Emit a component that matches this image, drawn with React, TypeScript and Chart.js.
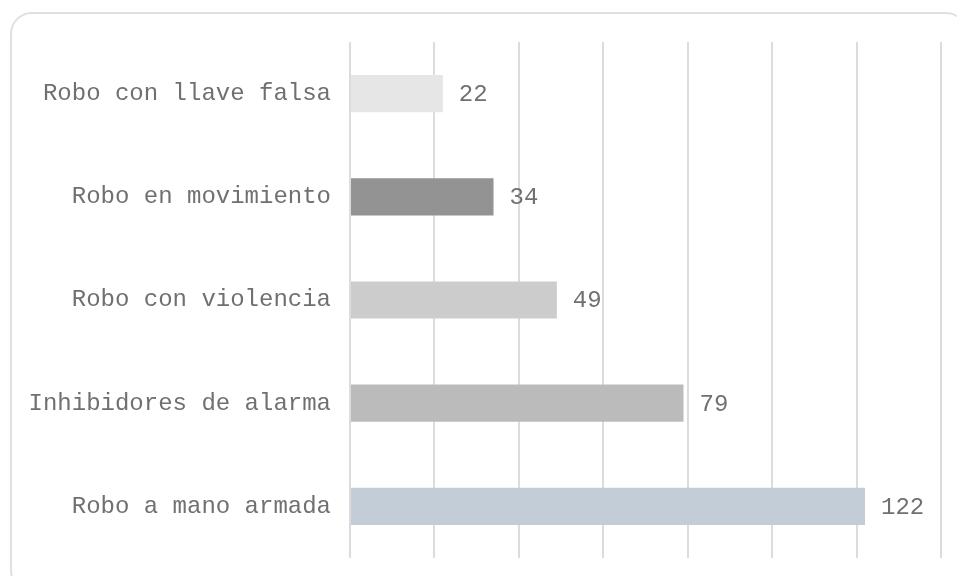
import React, { useEffect, useRef } from "react";
import { Chart, registerables } from "chart.js";

Chart.register(...registerables);

const categories = [
  "Robo con llave falsa",
  "Robo en movimiento",
  "Robo con violencia",
  "Inhibidores de alarma",
  "Robo a mano armada",
];
const values = [22, 34, 49, 79, 122];
const barColors = ["#e6e6e6", "#939393", "#cccccc", "#bbbbbb", "#c3cdd8"];
const axisMax = 140;
const axisStep = 20;

const FONT = "'Liberation Mono', 'Courier New', monospace";

const valueLabels = {
  id: "valueLabels",
  afterDatasetsDraw(chart: any) {
    const ctx = chart.ctx;
    const meta = chart.getDatasetMeta(0);
    ctx.save();
    ctx.font = `24px ${FONT}`;
    ctx.fillStyle = "#707070";
    ctx.textAlign = "left";
    ctx.textBaseline = "middle";
    meta.data.forEach((bar: any, i: number) => {
      ctx.fillText(String(values[i]), bar.x + 16, bar.y + 1);
    });
    ctx.restore();
  },
};

export default function App() {
  const ref = useRef<HTMLCanvasElement>(null);
  useEffect(() => {
    if (!ref.current) return;
    const chart = new Chart(ref.current, {
      type: "bar",
      data: {
        labels: categories,
        datasets: [
          {
            data: values,
            backgroundColor: barColors,
            borderWidth: 0,
            barPercentage: 0.36,
            categoryPercentage: 1,
          },
        ],
      },
      options: {
        indexAxis: "y",
        animation: false,
        responsive: false,
        maintainAspectRatio: false,
        layout: { padding: { top: 42, bottom: 18, right: 16, left: 0 } },
        plugins: { legend: { display: false }, tooltip: { enabled: false } },
        scales: {
          x: {
            min: 0,
            max: axisMax,
            ticks: { display: false, stepSize: axisStep },
            grid: { color: "#dcdcdc", lineWidth: 2, drawTicks: false },
            border: { display: false },
            afterFit: (scale: any) => {
              scale.height = 0;
            },
          },
          y: {
            ticks: {
              color: "#707070",
              font: { family: FONT, size: 24 },
              padding: 19,
            },
            grid: { display: false, drawTicks: false },
            border: { display: false },
            afterFit: (scale: any) => {
              scale.width = 350;
              scale.paddingTop = 0;
              scale.paddingBottom = 0;
            },
          },
        },
      },
      plugins: [valueLabels],
    });
    return () => chart.destroy();
  }, []);
  return (
    <div
      style={{
        position: "absolute",
        left: 0,
        top: 0,
        width: 957,
        height: 576,
        background: "#fff",
        overflow: "hidden",
      }}
    >
      <div
        style={{
          position: "absolute",
          left: 10,
          top: 12,
          width: 958,
          height: 580,
          border: "2px solid #e0e0e0",
          borderRadius: 22,
          boxSizing: "border-box",
        }}
      />
      <canvas
        ref={ref}
        width={957}
        height={576}
        style={{ position: "absolute", left: 0, top: 0 }}
      />
    </div>
  );
}
